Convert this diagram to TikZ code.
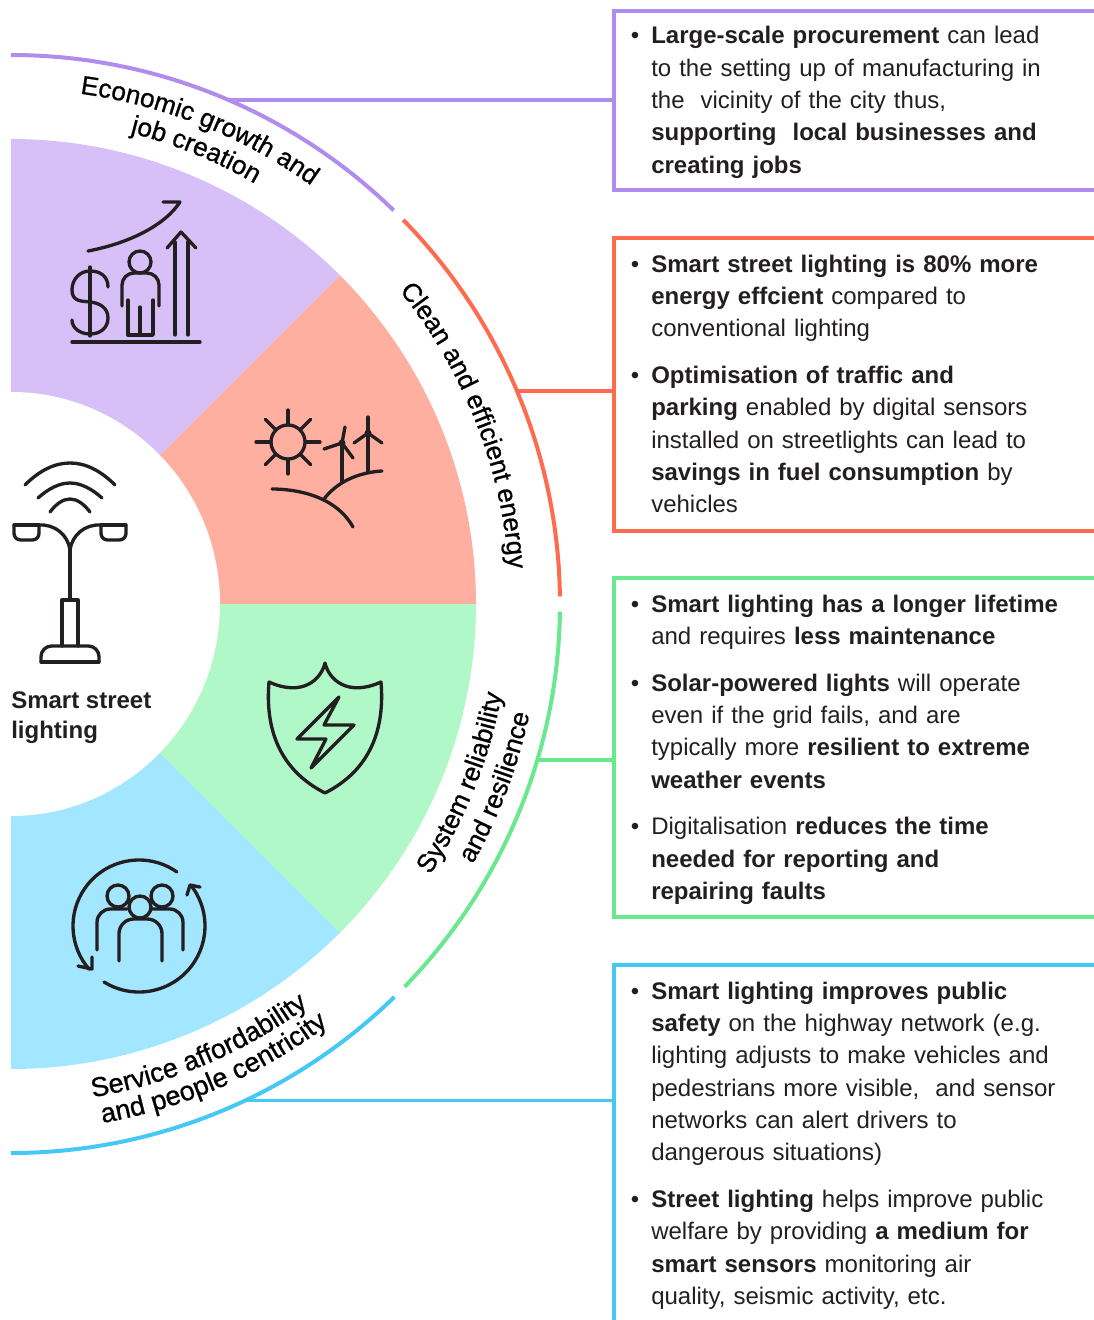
\documentclass[tikz,border=0pt]{standalone}
\usepackage{fontspec}
\setmainfont{Liberation Sans}
\newfontfamily\curvefont[FakeBold=0.8]{Liberation Sans}
\usetikzlibrary{decorations.text}
\definecolor{pfill}{HTML}{D7C0F7}
\definecolor{rfill}{HTML}{FFAFA0}
\definecolor{gfill}{HTML}{B0F8C8}
\definecolor{bfill}{HTML}{A3E6FF}
\definecolor{pline}{HTML}{B08CEE}
\definecolor{rline}{HTML}{FF6B4E}
\definecolor{gline}{HTML}{69E88E}
\definecolor{bline}{HTML}{45C8F5}
\definecolor{ink}{HTML}{231F20}
\newcommand{\bp}[1]{\par\noindent\llap{•\hspace{9pt}}\rule{0pt}{18pt}#1}
\newcommand{\bodyfont}{\fontsize{18}{24.25}\selectfont\setlength\parskip{10.8pt}}
\newcommand{\cvf}{\curvefont\fontsize{19.6}{22}\selectfont}
\newcommand{\cvfb}{\curvefont\fontsize{20.3}{22}\selectfont}
\tikzset{
  infobox/.style={draw=#1,line width=2.7pt,anchor=north west,minimum width=390pt,inner sep=0pt,outer sep=0pt},
  bodytext/.style={anchor=north west,inner sep=0pt,text width=335pt,align=left,text=ink,font=\bodyfont},
  ring/.style={draw=#1,line width=3pt},
  conn/.style={draw=#1,line width=2.7pt},
  icon/.style={draw=ink,line width=2.5pt,line cap=round,line join=round},
  curved/.style={decorate,decoration={text along path,text={|\cvf|#1},text align={left}}},
  curvedb/.style={decorate,decoration={text along path,text={|\cvfb|#1},text align={left}}}
}
\begin{document}
\begin{tikzpicture}[x=.75pt,y=.75pt]
\useasboundingbox (0,0) rectangle (1094,-1320);
\clip (0,0) rectangle (1094,-1320);
\coordinate (C) at (11,-604);
% sectors
\fill[pfill] (C) -- ([shift={(C)}]90:465) arc[start angle=90,end angle=45,radius=465] -- cycle;
\fill[rfill] (C) -- ([shift={(C)}]45:465) arc[start angle=45,end angle=0,radius=465] -- cycle;
\fill[gfill] (C) -- ([shift={(C)}]0:465) arc[start angle=0,end angle=-45,radius=465] -- cycle;
\fill[bfill] (C) -- ([shift={(C)}]-45:465) arc[start angle=-45,end angle=-90,radius=465] -- cycle;
\fill[white] (C) ellipse[x radius=209,y radius=212];
\fill[white] (0,0) rectangle (11,-1320);
% outer arcs
\draw[ring=pline] ([shift={(C)}]90:549) arc[start angle=90,end angle=45.8,radius=549];
\draw[ring=rline] ([shift={(C)}]44.4:549) arc[start angle=44.4,end angle=0.8,radius=549];
\draw[ring=gline] ([shift={(C)}]-0.8:549) arc[start angle=-0.8,end angle=-44.2,radius=549];
\draw[ring=bline] ([shift={(C)}]-45.7:549) arc[start angle=-45.7,end angle=-90,radius=549];
% boxes
\node[infobox=pline,minimum height=134.25pt] (box1) at (614,-11) {};
\node[infobox=rline,minimum height=219.75pt] (box2) at (614,-238) {};
\node[infobox=gline,minimum height=254.25pt] (box3) at (614,-578) {};
\node[infobox=bline,minimum height=300pt] (box4) at (614,-965) {};
% connectors
\coordinate (c1) at ([shift={(C)}]66.7:549);
\coordinate (c2) at ([shift={(C)}]22.8:549);
\coordinate (c3) at ([shift={(C)}]-16.5:549);
\coordinate (c4) at ([shift={(C)}]-64.7:549);
\draw[conn=pline] (c1) -- (box1.west |- c1);
\draw[conn=rline] (c2) -- (box2.west |- c2);
\draw[conn=gline] (c3) -- (box3.west |- c3);
\draw[conn=bline] (c4) -- (box4.west |- c4);
% box texts
\node[bodytext] (t1) at (651,3) {%
\bp{\textbf{Large-scale procurement} can lead\\to the setting up of manufacturing in\\the \ vicinity of the city thus,\\\textbf{supporting \ local businesses and}\\\textbf{creating jobs}}};
\node[bodytext] (t2) at (651,-225) {%
\bp{\textbf{Smart street lighting is 80\% more}\\\textbf{energy effcient} compared to\\conventional lighting}
\bp{\textbf{Optimisation of traffic and}\\\textbf{parking} enabled by digital sensors\\installed on streetlights can lead to\\\textbf{savings in fuel consumption} by\\vehicles}};
\node[bodytext] (t3) at (651,-565) {%
\bp{\textbf{Smart lighting has a longer lifetime}\\and requires \textbf{less maintenance}}
\bp{\textbf{Solar-powered lights} will operate\\even if the grid fails, and are\\typically more \textbf{resilient to extreme}\\\textbf{weather events}}
\bp{Digitalisation \textbf{reduces the time}\\\textbf{needed for reporting and}\\\textbf{repairing faults}}};
\node[bodytext] (t4) at (651,-952) {%
\bp{\textbf{Smart lighting improves public}\\\textbf{safety} on the highway network (e.g.\\lighting adjusts to make vehicles and\\pedestrians more visible, \ and sensor\\networks can alert drivers to\\dangerous situations)}
\bp{\textbf{Street lighting} helps improve public\\welfare by providing \textbf{a medium for}\\\textbf{smart sensors} monitoring air\\quality, seismic activity, etc.}};
% curved labels
\path[curved={Economic growth and}] ([shift={(C)}]82.3:515) arc[start angle=82.3,end angle=45,radius=515];
\path[curved={job creation}] ([shift={(C)}]75.8:486) arc[start angle=75.8,end angle=45,radius=486];
\path[curved={Clean and efficient energy}] ([shift={(C)}]38.9:499) arc[start angle=38.9,end angle=-5,radius=499];
\path[curved={System reliability}] ([shift={(C)}]-32.9:499) arc[start angle=-32.9,end angle=0,radius=499];
\path[curved={and resilience}] ([shift={(C)}]-29.4:530) arc[start angle=-29.4,end angle=0,radius=530];
\path[curvedb={Service affordability}] ([shift={(C)}]-80.6:500) arc[start angle=-80.6,end angle=-40,radius=500];
\path[curvedb={and people centricity}] ([shift={(C)}]-80:527) arc[start angle=-80,end angle=-40,radius=527];
% centre label
\node[anchor=north west,inner sep=0pt,align=left,text=ink,font=\fontsize{18}{23}\selectfont\bfseries] (lbl) at (11,-691) {Smart street\\lighting};
% icons in pixel coordinates (y down)
\begin{scope}[yscale=-1,icon]
% chart
\draw (88,251) .. controls (130,243) and (165,225) .. (180,202) -- (163,202);
\draw (108,287) .. controls (108,276) and (100,271) .. (90,271) .. controls (80,271) and (72,279) .. (72,290) .. controls (72,302) and (82,301) .. (90,302) .. controls (100,303) and (108,308) .. (108,318) .. controls (108,328) and (100,334) .. (90,334) .. controls (80,334) and (72,328) .. (72,320);
\draw (90,267) -- (90,336);
\draw (140,262) circle[radius=11];
\draw[rounded corners=9] (122,306) -- (122,273) -- (159,273) -- (159,306);
\draw (128,300) -- (128,335) -- (153,335) -- (153,300);
\draw (140,307) -- (140,335);
\draw (175,335) -- (175,242);
\draw (188,335) -- (188,242);
\draw (167,248) -- (181,232) -- (196,248);
\draw (72,342) -- (200,342);
% lamp
\draw (25,485) .. controls (40,470) and (55,463) .. (70,463) .. controls (85,463) and (100,470) .. (115,485);
\draw (38,498) .. controls (48,489) and (59,483) .. (70,483) .. controls (81,483) and (92,489) .. (102,498);
\draw (50,512) .. controls (56,504) and (63,499) .. (70,499) .. controls (77,499) and (84,504) .. (90,512);
\draw[rounded corners=5] (14,525) -- (14,540) -- (39,540) -- (39,525);
\draw (14,525) -- (39,525);
\draw[rounded corners=5] (126,525) -- (126,540) -- (101,540) -- (101,525);
\draw (126,525) -- (101,525);
\draw (39,525) .. controls (55,524) and (68,535) .. (70,550) .. controls (72,535) and (85,524) .. (101,525);
\draw (70,550) -- (70,600);
\draw (62,646) -- (62,600) -- (78,600) -- (78,646);
\draw[rounded corners=8] (41,662) -- (41,646) -- (99,646) -- (99,662);
\draw (41,662) -- (99,662);
% sun
\draw (288,442) circle[radius=17];
\foreach \a in {0,45,...,315}{\draw ([shift={(288,442)}]\a:18) -- ([shift={(288,442)}]\a:32);}
% turbines
\draw (342,443) -- (342,482);
\draw (345,427) -- (342,443) -- (324,449);
\draw (342,443) -- (353,458);
\fill[ink] (342,443) circle[radius=3.5];
\draw (368,417) -- (368,472);
\draw (354,443) -- (368,433) -- (382,443);
\fill[ink] (368,433) circle[radius=3.5];
\draw (272,489) .. controls (295,489) and (335,495) .. (353,527);
\draw (324,499) .. controls (340,478) and (365,472) .. (382,471);
% shield
\draw (325,663) .. controls (329,680) and (348,697) .. (381,682) .. controls (385,730) and (370,770) .. (325,793) .. controls (280,770) and (265,730) .. (269,682) .. controls (302,697) and (321,680) .. cycle;
\draw (339,697) -- (324,725) -- (354,725) -- (311,768) -- (326,739) -- (297,739) -- cycle;
% people
\draw (118,896) circle[radius=11];
\draw (162,896) circle[radius=11];
\draw (140,907) circle[radius=11];
\draw[rounded corners=10] (97,950) -- (97,909) -- (127,909);
\draw[rounded corners=10] (183,950) -- (183,909) -- (152,909);
\draw[rounded corners=11] (119,961) -- (119,919) -- (162,919) -- (162,961);
\draw (78,966) -- (92,969) -- (92,957);
\draw (187,895) -- (190,885) -- (200,887);
\end{scope}
\draw[icon] ([shift={(139,-926)}]55:66) arc[start angle=55,end angle=221,radius=66];
\draw[icon] ([shift={(139,-926)}]238:66) arc[start angle=238,end angle=398,radius=66];
\end{tikzpicture}
\end{document}
